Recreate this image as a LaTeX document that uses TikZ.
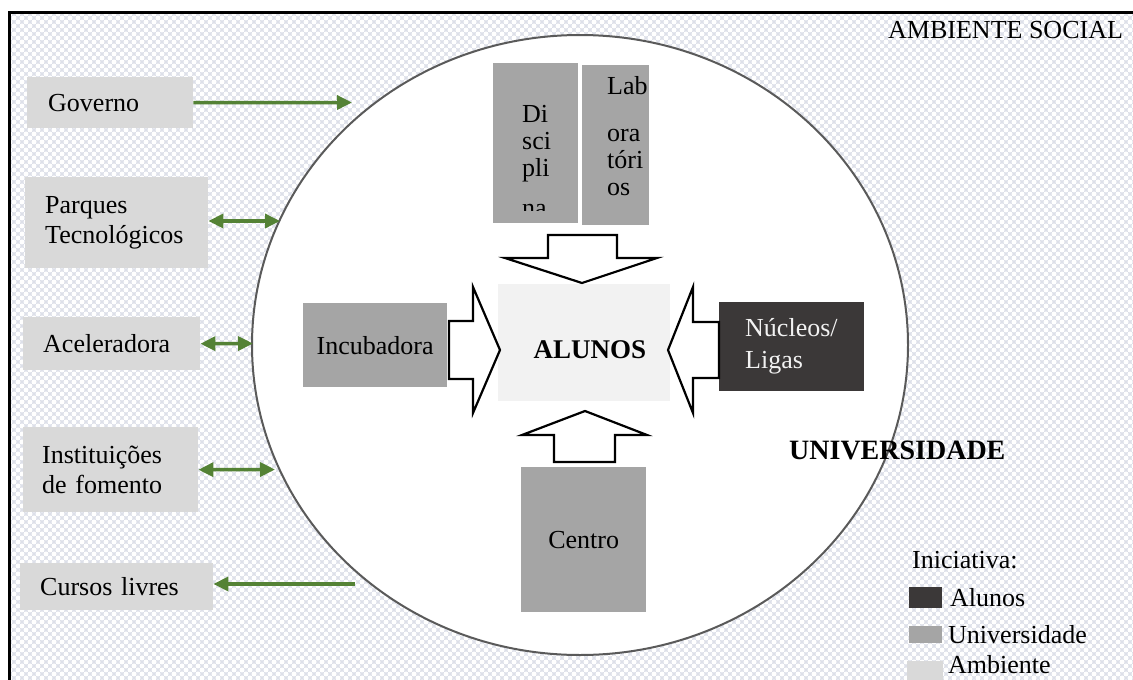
\documentclass[tikz,border=0pt]{standalone}
\usepackage{fontspec}
\setmainfont{Liberation Serif}
\usetikzlibrary{arrows.meta,patterns}
\definecolor{lightbox}{HTML}{D9D9D9}
\definecolor{midbox}{HTML}{A5A5A5}
\definecolor{darkbox}{HTML}{3B3838}
\definecolor{alubox}{HTML}{F2F2F2}
\definecolor{arrgreen}{HTML}{548235}
\definecolor{bgtone}{HTML}{DDE0E9}
\definecolor{ringgray}{HTML}{5A5A5A}
\definecolor{lighttext}{HTML}{F2F2F2}
\pgfdeclarepatternformonly{bgdots}{\pgfqpoint{-1pt}{-1pt}}{\pgfqpoint{9pt}{9pt}}{\pgfqpoint{8pt}{8pt}}{%
 \pgfpathcircle{\pgfqpoint{2pt}{2pt}}{2.5pt}%
 \pgfpathcircle{\pgfqpoint{6pt}{6pt}}{2.5pt}%
 \pgfusepath{fill}}
\tikzset{
  txt/.style={font=\fontsize{26}{30}\selectfont},
  envbox/.style={txt, fill=lightbox, anchor=north west, align=left, inner ysep=0pt},
  unibox/.style={txt, fill=midbox, anchor=north west, inner sep=0pt},
  garrow/.style={arrgreen, line width=3.5pt, -{Triangle[length=15pt,width=14pt]}},
  garrowboth/.style={arrgreen, line width=3.5pt, {Triangle[length=15pt,width=14pt]}-{Triangle[length=15pt,width=14pt]}},
  blockarrow/.style={draw=black, fill=white, line width=2.2pt, line join=miter},
  legsq/.style={anchor=north west, inner sep=0pt},
  legtxt/.style={txt, anchor=west, inner sep=0pt},
}
\begin{document}
\begin{tikzpicture}[x=1pt,y=-1pt]
\useasboundingbox (0,0) rectangle (1133,680);
\fill[white] (0,0) rectangle (1133,680);
% social environment background
\fill[bgtone] (10,12) rectangle (1133,680);
\fill[pattern=bgdots, pattern color=white] (10,12) rectangle (1133,680);
\draw[line width=2.5pt, line join=miter] (9.5,680) -- (9.5,12.5) -- (1133,12.5);

% university circle
\draw[ringgray, line width=2pt, fill=white] (580,345) ellipse [x radius=328, y radius=310];

% environment boxes
\node[envbox, inner xsep=21pt, text width=124pt, minimum height=51pt] (gov) at (27,77) {Governo};
\node[envbox, inner xsep=20pt, text width=143pt, minimum height=91pt] (park) at (25,177) {Parques\\Tecnológicos};
\node[envbox, inner xsep=20pt, text width=137pt, minimum height=53pt] (acel) at (23,317) {Aceleradora};
\node[envbox, inner xsep=19pt, text width=137pt, minimum height=85pt] (inst) at (23,427) {Instituições\\de fomento};
\node[envbox, inner xsep=20pt, text width=153pt, minimum height=47pt] (curs) at (20,563) {Cursos livres};

% green connectors
\coordinate (gE) at (352,102.5);
\coordinate (pE) at (280,221);
\coordinate (aE) at (253,343.5);
\coordinate (iE) at (275,469.5);
\coordinate (cS) at (355,584);
\draw[garrow] (gov.east) -- (gE);
\draw[garrowboth] (park.east |- pE) -- (pE);
\draw[garrowboth] (acel.east) -- (aE);
\draw[garrowboth] (inst.east) -- (iE);
\draw[garrow] (cS) -- (cS -| curs.east);

% university boxes
\node[unibox, minimum width=85pt, minimum height=160pt] (disc) at (493,63) {};
\begin{scope}
  \clip (493,63) rectangle (578,210);
  \node[txt, anchor=north west, align=left, inner sep=0pt, font=\fontsize{26}{27}\selectfont] (disctext) at (522,105) {Di\\sci\\pli\\[13pt]na};
\end{scope}
\node[unibox, minimum width=67pt, minimum height=160pt] (lab) at (582,65) {};
\node[txt, anchor=north west, align=left, inner sep=0pt, font=\fontsize{26}{27}\selectfont] (labtext) at (607,76) {Lab\\[20pt]ora\\tóri\\os};
\node[unibox, minimum width=144pt, minimum height=84pt] (incub) at (303,303) {Incubadora};
\node[unibox, minimum width=125pt, minimum height=145pt] (centro) at (521,467) {Centro};

% students
\node[fill=alubox, anchor=north west, inner sep=0pt, minimum width=172pt, minimum height=117pt] (alu) at (498,284) {};
\node[txt, font=\fontsize{27}{30}\selectfont\bfseries, inner sep=0pt] (alutext) at (590,350) {ALUNOS};
\node[txt, fill=darkbox, text=lighttext, anchor=north west, align=left, inner ysep=0pt, inner xsep=26pt, text width=93pt, minimum height=89pt, font=\fontsize{26}{32}\selectfont] (nucl) at (719,302) {Núcleos/\\Ligas};

% block arrows
\draw[blockarrow] (548,235) -- (617,235) -- (617,258) -- (657,258) -- (582,283) -- (505,258) -- (548,258) -- cycle;
\draw[blockarrow] (554,462) -- (615,462) -- (615,435) -- (647,435) -- (585,411) -- (522,435) -- (554,435) -- cycle;
\draw[blockarrow] (449,321) -- (473,321) -- (473,287) -- (500,350) -- (473,413) -- (473,379) -- (449,379) -- cycle;
\draw[blockarrow] (719,322) -- (693,322) -- (693,287) -- (668,350) -- (693,413) -- (693,378) -- (719,378) -- cycle;

% labels
\node[txt, anchor=west, inner sep=0pt] (ambs) at (888,30) {AMBIENTE SOCIAL};
\node[txt, font=\fontsize{28}{30}\selectfont\bfseries, anchor=west, inner sep=0pt] (univ) at (789,450) {UNIVERSIDADE};

% legend
\node[legtxt] (leg) at (912,560) {Iniciativa:};
\node[legsq, fill=darkbox, minimum width=33pt, minimum height=21pt] (lsqA) at (909,587) {};
\node[legtxt] (lA) at (950,598) {Alunos};
\node[legsq, fill=midbox, minimum width=33pt, minimum height=17pt] (lsqU) at (909,626) {};
\node[legtxt] (lU) at (948,635) {Universidade};
\node[legsq, fill=lightbox, minimum width=36pt, minimum height=19pt] (lsqE) at (907,661) {};
\node[legtxt] (lE) at (948,665) {Ambiente};
\end{tikzpicture}
\end{document}
